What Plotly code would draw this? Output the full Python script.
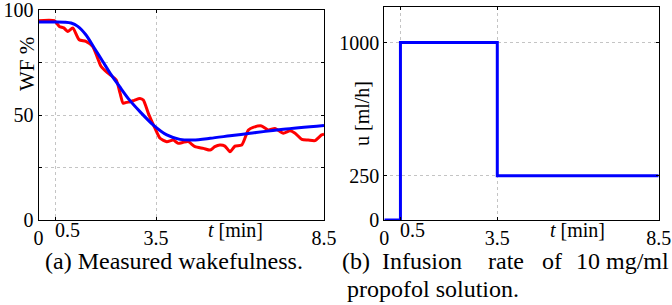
import plotly.graph_objects as go

# ---- data ----
t_meas = [0, 0.47, 0.62, 0.75, 0.87, 1.02, 1.21, 1.41, 1.61, 1.76, 1.86, 2.06, 2.31, 2.43,
          2.52, 2.62, 2.72, 2.85, 3.02, 3.12, 3.27, 3.47, 3.62, 3.82, 4.01, 4.16, 4.31, 4.46,
          4.66, 4.91, 5.11, 5.25, 5.40, 5.55, 5.70, 5.85, 6.05, 6.25, 6.39, 6.64, 6.84, 7.04,
          7.29, 7.49, 7.64, 7.84, 8.03, 8.23, 8.43, 8.5]
wf_meas = [94.9, 94.9, 92.2, 91.5, 89.8, 91.4, 85.8, 85.1, 82.7, 77.1, 73.2, 70.0, 66.8, 60.3,
           55.6, 56.0, 56.3, 57.0, 57.9, 57.1, 50.8, 43.6, 38.9, 37.3, 38.1, 36.5, 37.0, 37.3,
           34.9, 34.1, 33.3, 34.9, 35.7, 35.2, 32.5, 35.2, 35.7, 42.9, 44.1, 44.8, 42.9, 43.6,
           41.3, 42.5, 41.3, 38.4, 38.1, 37.8, 40.5, 40.8]

t_model = [0, 0.5, 0.8, 0.97, 1.17, 1.41, 1.66, 1.91, 2.16, 2.41, 2.70, 3.02, 3.42, 3.82,
           4.21, 4.61, 5.11, 5.70, 6.30, 7.29, 8.5]
wf_model = [94.3, 94.3, 94.2, 93.8, 92.2, 88.2, 81.9, 75.6, 69.2, 63.6, 57.3, 51.6, 45.2, 40.5,
            38.4, 38.1, 38.9, 40.1, 41.3, 43.2, 45.0]

t_u = [0, 0.5, 3.5, 8.5]
u_rate = [0, 1000, 250, 250]

x_ticks = [0, 0.5, 3.5, 8.5]
x_ticktext = ["0", "", "3.5", "8.5"]   # "0.5" drawn separately, nudged right
x_shifted_tick = 0.5
wf_ticks = [0, 25, 50, 75, 100]
wf_ticktext = ["0", "", "50", "", "100"]
u_ticks = [0, 250, 1000]
u_ticktext = ["0", "250", "1000"]

W, H = 672, 305
FONT = "Liberation Serif"


def px(x):
    return x / W


def py(y):
    return 1 - y / H


fig = go.Figure()
fig.add_trace(go.Scatter(x=t_meas, y=wf_meas, mode="lines", xaxis="x", yaxis="y",
                         line=dict(color="#ff0000", width=3, shape="spline", smoothing=0.6),
                         showlegend=False))
fig.add_trace(go.Scatter(x=t_model, y=wf_model, mode="lines", xaxis="x", yaxis="y",
                         line=dict(color="#0000ff", width=3, shape="spline", smoothing=0.8),
                         showlegend=False))
fig.add_trace(go.Scatter(x=t_u, y=u_rate, mode="lines", xaxis="x2", yaxis="y2",
                         line=dict(color="#0000ff", width=3, shape="hv"),
                         showlegend=False))

axis_common = dict(showline=True, linecolor="black", linewidth=1, mirror="ticks",
                   ticks="inside", ticklen=3, tickcolor="black", tickangle=0,
                   automargin=False,
                   showgrid=True, gridcolor="#c4c4c4", gridwidth=1, griddash="dot",
                   zeroline=False, tickfont=dict(family=FONT, size=20, color="black"))

fig.update_layout(
    template="none",
    width=W, height=H,
    margin=dict(l=0, r=0, t=0, b=0),
    paper_bgcolor="white", plot_bgcolor="white",
    xaxis=dict(domain=[px(38.5), px(324)], range=[0, 8.5], tickvals=x_ticks,
               ticktext=x_ticktext, anchor="y", **axis_common),
    yaxis=dict(domain=[py(220), py(10)], range=[0, 100], tickvals=wf_ticks,
               ticktext=wf_ticktext, anchor="x", **axis_common),
    xaxis2=dict(domain=[px(384.3), px(658.7)], range=[0, 8.5], tickvals=x_ticks,
                ticktext=x_ticktext, anchor="y2", **axis_common),
    yaxis2=dict(domain=[py(220), py(7)], range=[0, 1200], tickvals=u_ticks,
                ticktext=u_ticktext, anchor="x2", **axis_common),
)

ann_font = dict(family=FONT, size=20, color="black")
cap_font = dict(family=FONT, size=24, color="black")


def add_text(text, x, y, font, xanchor="center", angle=0):
    fig.add_annotation(text=text, x=px(x), y=py(y), xref="paper", yref="paper",
                       xanchor=xanchor, yanchor="middle", showarrow=False,
                       font=font, textangle=angle, borderpad=0)


# nudged "0.5" tick labels
for xr in ("x", "x2"):
    fig.add_annotation(text=str(x_shifted_tick), x=x_shifted_tick, xref=xr,
                       y=py(230), yref="paper", xshift=12, xanchor="center",
                       yanchor="middle", showarrow=False, font=ann_font, borderpad=0)

add_text("<i>t</i> [min]", 236, 230, ann_font)
add_text("<i>t</i> [min]", 577, 230, ann_font)
add_text("WF\u00a0%", 27, 64, dict(family=FONT, size=21, color="black"), angle=-90)
add_text("u [ml/h]", 362, 114, ann_font, angle=-90)

add_text("(a) Measured wakefulness.", 174, 261, cap_font)
for word, xc in [("(b)", 356.5), ("Infusion", 421.5), ("rate", 505.5), ("of", 551.5),
                 ("10", 588), ("mg/ml", 637)]:
    add_text(word, xc, 261, cap_font, xanchor="center")
add_text("propofol solution.", 346, 289, cap_font, xanchor="left")

fig.write_html("out.html", config={"displayModeBar": False},
               post_script="document.body.style.margin='0px';")
